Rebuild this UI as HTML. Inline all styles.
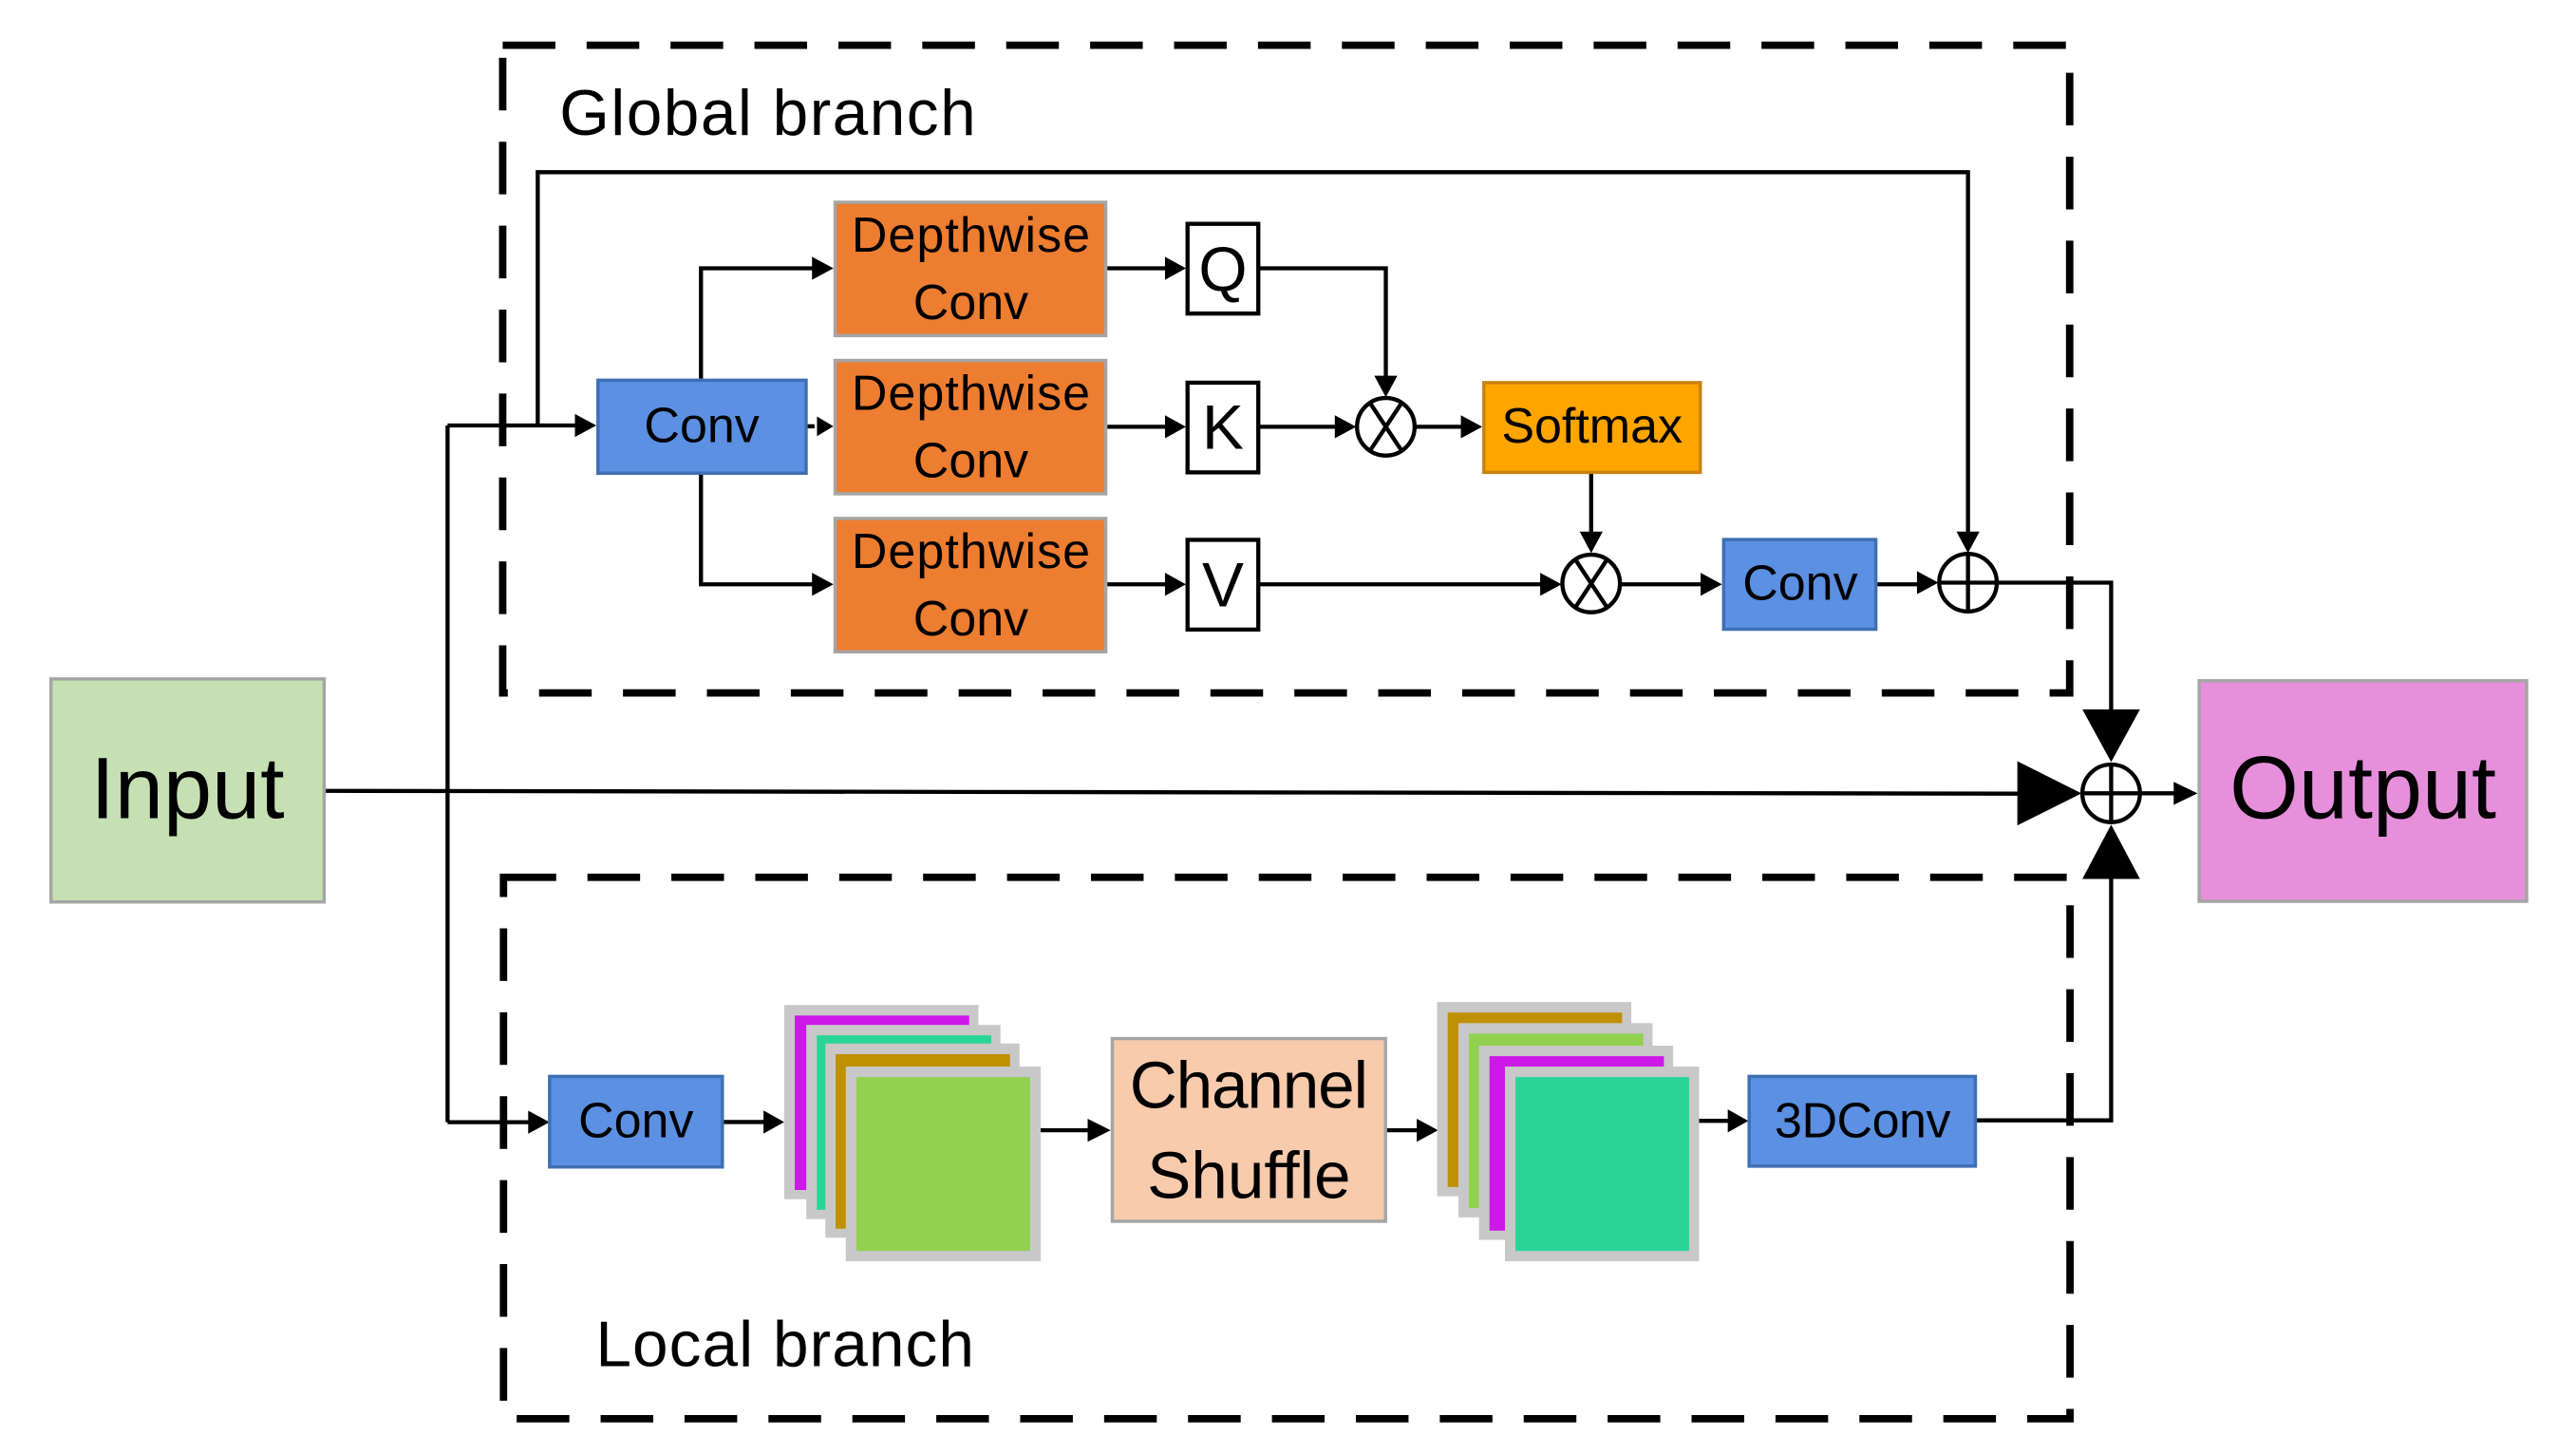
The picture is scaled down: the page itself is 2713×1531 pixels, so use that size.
<!DOCTYPE html>
<html><head><meta charset="utf-8"><style>html,body{margin:0;padding:0;background:#fff}svg{display:block}</style></head>
<body>
<svg width="2713" height="1531" viewBox="0 0 1565.5 883.4" preserveAspectRatio="none" xmlns="http://www.w3.org/2000/svg" font-family="'Liberation Sans', sans-serif">
<rect width="1565.5" height="883.4" fill="#fff"/>
<rect x="305.5" y="27.5" width="952.3" height="393.5" fill="none" stroke="#000" stroke-width="4.5" stroke-dasharray="32 19"/>
<rect x="306" y="533" width="952" height="329" fill="none" stroke="#000" stroke-width="4.5" stroke-dasharray="32 19"/>
<text x="340" y="82" font-size="39" textLength="253">Global branch</text>
<text x="362" y="830" font-size="39" textLength="230">Local branch</text>

<g stroke="#000" stroke-width="2.5" fill="none">
<path d="M197.7,480.5 L1228,482.2"/>
<path d="M272,258.5 V681.8"/>
<path d="M272,258.5 H350"/>
<path d="M272,681.8 H322"/>
<path d="M326.8,258.5 V104.6 H1196 V324"/>
<path d="M426,230 V163 H495"/>
<path d="M426,288 V355 H495"/>
<path d="M490.5,259 H495"/>
<path d="M672,163 H709 M672,259.3 H709 M672,355 H709"/>
<path d="M764.8,163 H842.2 V229"/>
<path d="M764.8,259.3 H812"/>
<path d="M860.2,259.3 H889"/>
<path d="M967,287 V324"/>
<path d="M764.8,355 H937"/>
<path d="M985,355 H1035"/>
<path d="M1140,355 H1166"/>
<path d="M1214,354 H1283 V440"/>
<path d="M1301,482 H1323"/>
<path d="M1200,680.7 H1283 V520"/>
<path d="M440,681.7 H465"/>
<path d="M632.4,686.7 H663"/>
<path d="M842,686.7 H862"/>
<path d="M1032.6,681 H1051"/>
</g>
<g fill="#000">
<polygon points="362.4,258.5 349.4,251.5 349.4,265.5"/>
<polygon points="334,681.8 321,674.8 321,688.8"/>
<polygon points="1196,336 1189,323 1203,323"/>
<polygon points="506.5,163 493.5,156 493.5,170"/>
<polygon points="506.5,355 493.5,348 493.5,362"/>
<polygon points="506.5,259 496.5,253 496.5,265"/>
<polygon points="720.7,163 708,156 708,170"/>
<polygon points="720.7,259.3 708,252.3 708,266.3"/>
<polygon points="720.7,355 708,348 708,362"/>
<polygon points="842.2,241.3 835.2,228.3 849.2,228.3"/>
<polygon points="824.2,259.3 811.2,252.3 811.2,266.3"/>
<polygon points="900.8,259.3 887.8,252.3 887.8,266.3"/>
<polygon points="967,336 960,323 974,323"/>
<polygon points="949,355 936,348 936,362"/>
<polygon points="1046.5,355 1033.5,348 1033.5,362"/>
<polygon points="1178,354 1165,347 1165,361"/>
<polygon points="1283,463 1265.5,431 1300.5,431"/>
<polygon points="1265,482 1226,462.5 1226,501.5"/>
<polygon points="1283,501 1265.5,534 1300.5,534"/>
<polygon points="1335.5,482 1321,475 1321,489"/>
<polygon points="476.6,681.7 464,674.7 464,688.7"/>
<polygon points="675,686.7 661,679.7 661,693.7"/>
<polygon points="874,686.7 861,679.7 861,693.7"/>
<polygon points="1062.5,681 1050,674 1050,688"/>
</g>
<g stroke="#000" stroke-width="2.5" fill="#fff">
<circle cx="842.2" cy="259.3" r="17.5"/>
<circle cx="967" cy="354.5" r="17.5"/>
<circle cx="1196" cy="354" r="17.5"/>
<circle cx="1283" cy="482" r="17.5"/>
</g>
<g stroke="#000" stroke-width="2.5">
<path d="M832.6,244.8 L851.8,273.8 M851.8,244.8 L832.6,273.8"/>
<path d="M957.4,340 L976.6,369 M976.6,340 L957.4,369"/>
<path d="M1196,336.5 V371.5 M1178.5,354 H1213.5"/>
<path d="M1283,464.5 V499.5 M1265.5,482 H1300.5"/>
</g>

<rect x="31" y="412.5" width="166" height="135.5" fill="#c6e0b4" stroke="#a5a5a5" stroke-width="2"/>
<text x="114" y="497" font-size="53" text-anchor="middle">Input</text>
<rect x="1336.5" y="413.6" width="199" height="134" fill="#e690db" stroke="#a5a5a5" stroke-width="2"/>
<text x="1436" y="497" font-size="54" text-anchor="middle">Output</text>

<rect x="363.4" y="231" width="126.5" height="56.5" fill="#5b90e2" stroke="#3f6fb3" stroke-width="2"/>
<text x="426.5" y="268.7" font-size="30" text-anchor="middle">Conv</text>
<g fill="#ed7d31" stroke="#a5a5a5" stroke-width="2">
<rect x="507.5" y="122.9" width="164.5" height="81"/>
<rect x="507.5" y="219" width="164.5" height="81"/>
<rect x="507.5" y="315" width="164.5" height="81"/>
</g>
<g font-size="30" text-anchor="middle">
<text x="590" y="153" textLength="145">Depthwise</text><text x="590" y="194">Conv</text>
<text x="590" y="249" textLength="145">Depthwise</text><text x="590" y="290">Conv</text>
<text x="590" y="345" textLength="145">Depthwise</text><text x="590" y="386">Conv</text>
</g>
<g fill="#fff" stroke="#000" stroke-width="2.5">
<rect x="721.7" y="136" width="43" height="54.5"/>
<rect x="721.7" y="232.5" width="43" height="54.5"/>
<rect x="721.7" y="328" width="43" height="54.5"/>
</g>
<g font-size="38" text-anchor="middle">
<text x="743.2" y="176.5">Q</text>
<text x="743.2" y="272.5">K</text>
<text x="743.2" y="368.5">V</text>
</g>
<rect x="901.8" y="232.5" width="131.5" height="54.5" fill="#ffa500" stroke="#c8820f" stroke-width="2"/>
<text x="967.5" y="269" font-size="30" text-anchor="middle">Softmax</text>
<rect x="1047.5" y="327.8" width="92.5" height="54.5" fill="#5b90e2" stroke="#3f6fb3" stroke-width="2"/>
<text x="1094" y="364.5" font-size="30" text-anchor="middle">Conv</text>

<rect x="334" y="654" width="105" height="55" fill="#5b90e2" stroke="#3f6fb3" stroke-width="2"/>
<text x="386.5" y="691" font-size="30" text-anchor="middle">Conv</text>
<rect x="1063" y="654" width="137.5" height="54.5" fill="#5b90e2" stroke="#3f6fb3" stroke-width="2"/>
<text x="1132" y="691" font-size="30" text-anchor="middle" textLength="107">3DConv</text>

<g>
<rect x="476.6" y="610.6" width="118" height="118" fill="#c8c8c8"/><rect x="483" y="617" width="106" height="106" fill="#cc19e8"/>
<rect x="490" y="622.7" width="118" height="118" fill="#c8c8c8"/><rect x="496.4" y="629" width="106" height="106" fill="#28d597"/>
<rect x="501.6" y="634" width="118" height="118" fill="#c8c8c8"/><rect x="507.8" y="640.5" width="106" height="106" fill="#bf9000"/>
<rect x="514" y="648" width="118.4" height="118.3" fill="#c8c8c8"/><rect x="520.5" y="654.4" width="105.5" height="105.6" fill="#92d050"/>
</g>
<rect x="676" y="631" width="166" height="111" fill="#f8cbad" stroke="#a5a5a5" stroke-width="2"/>
<text x="759" y="673" font-size="40" text-anchor="middle" textLength="145">Channel</text>
<text x="759" y="728" font-size="40" text-anchor="middle">Shuffle</text>
<g>
<rect x="873.4" y="608.8" width="118" height="118" fill="#c8c8c8"/><rect x="879.8" y="615.2" width="106" height="106" fill="#bf9000"/>
<rect x="886.3" y="621.6" width="118" height="118" fill="#c8c8c8"/><rect x="892.7" y="628" width="106" height="106" fill="#92d050"/>
<rect x="898.8" y="635.3" width="118" height="118" fill="#c8c8c8"/><rect x="905.2" y="641.7" width="106" height="106" fill="#cc19e8"/>
<rect x="914.6" y="648" width="118" height="118.3" fill="#c8c8c8"/><rect x="921" y="654.4" width="105.5" height="105.6" fill="#28d597"/>
</g>
</svg>
</body></html>
